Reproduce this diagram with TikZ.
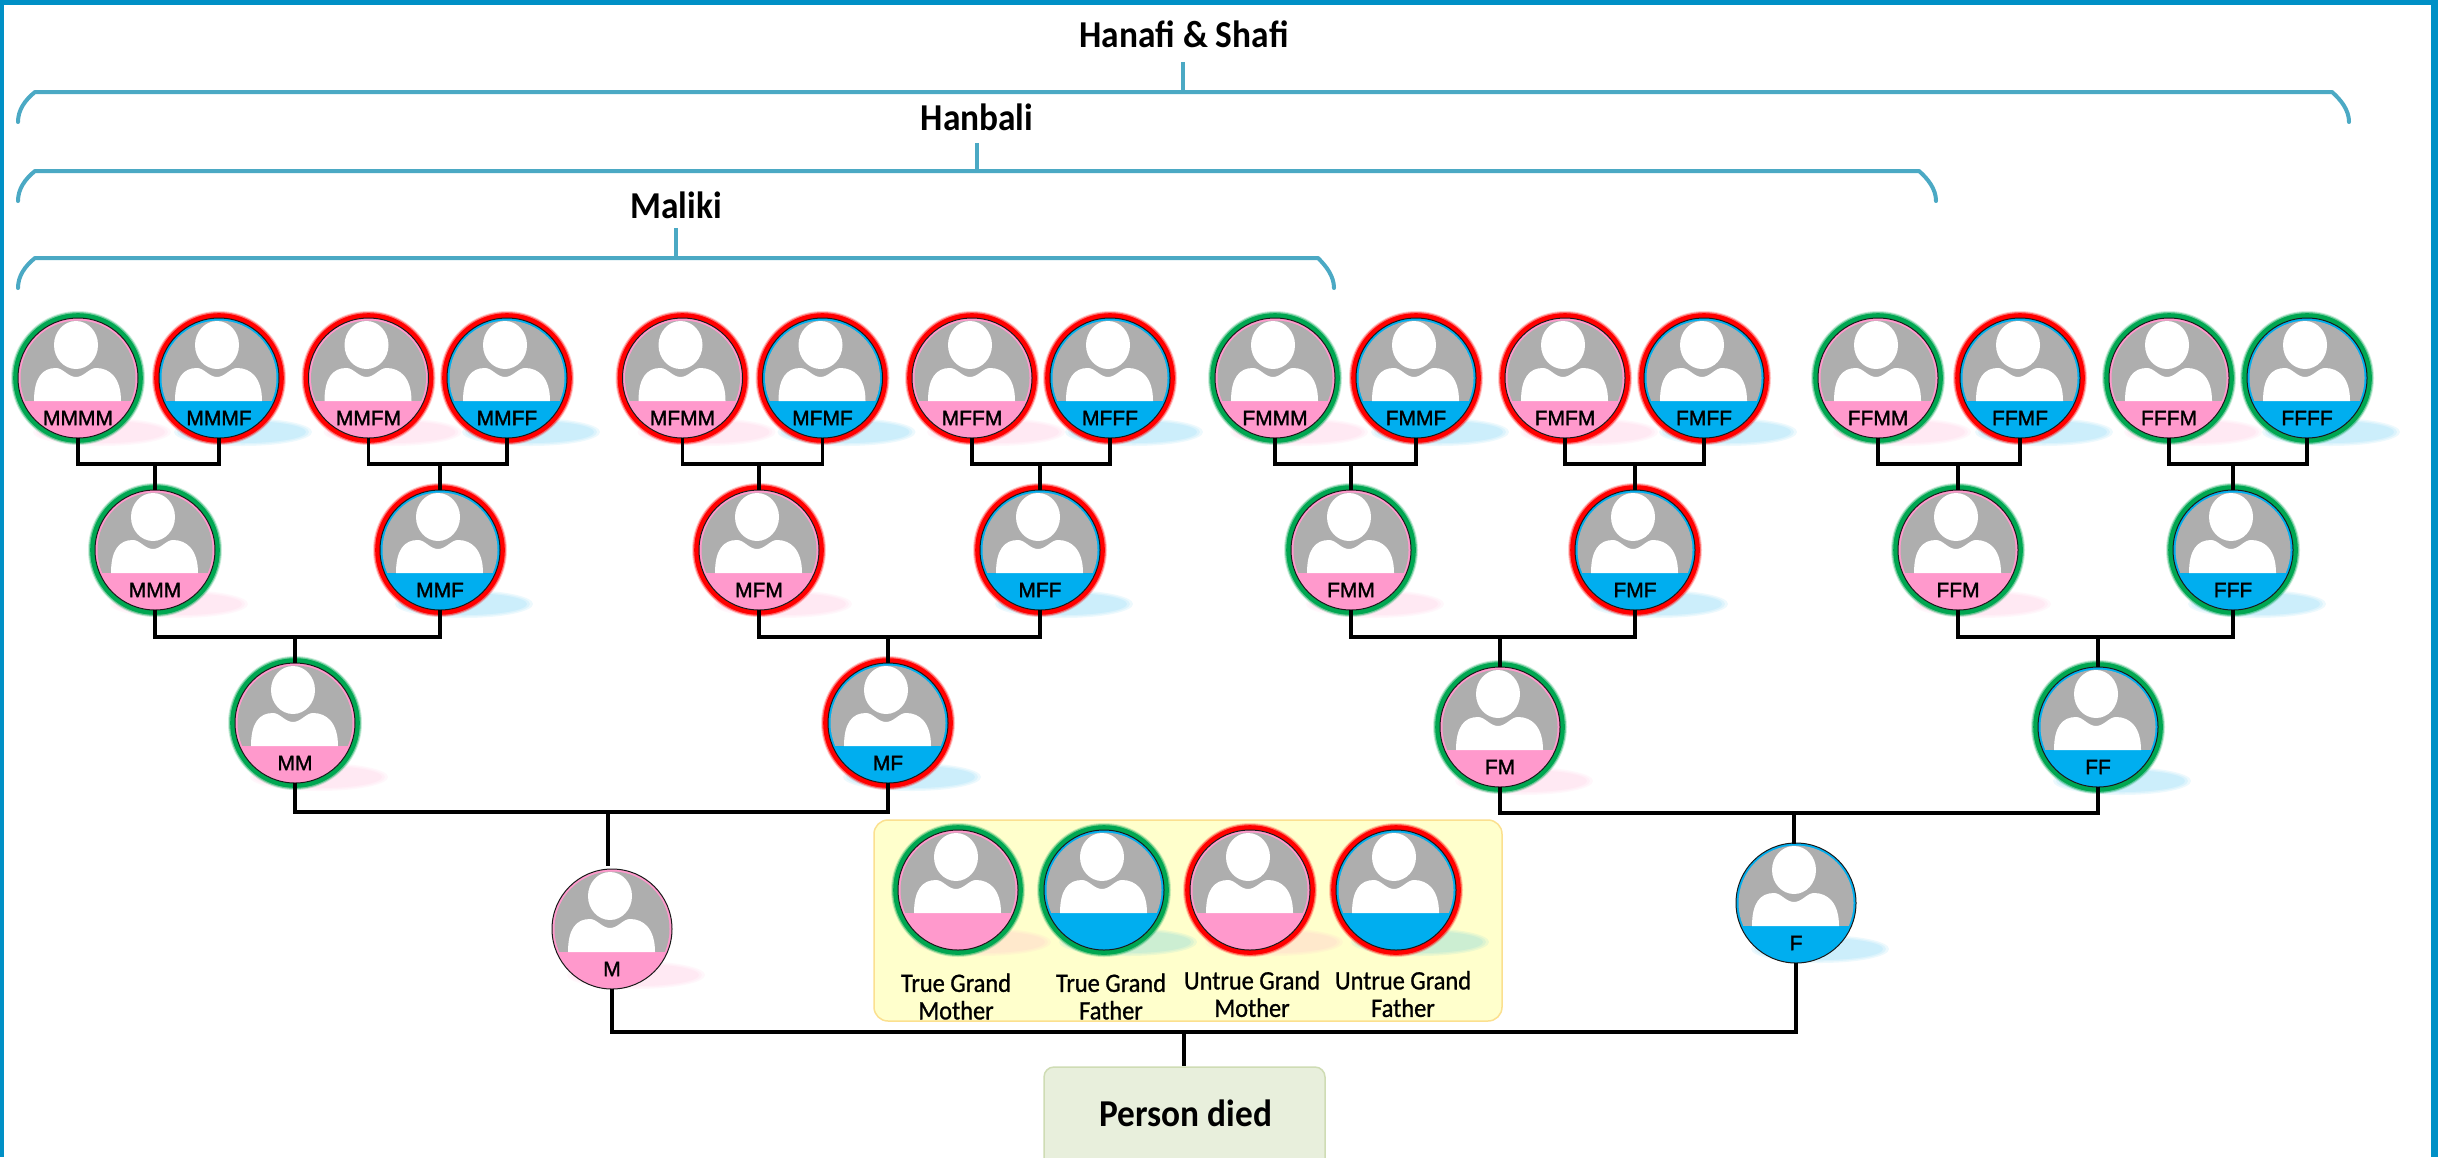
\documentclass[tikz,border=0pt]{standalone}
\usepackage{fontspec}
\setmainfont{Liberation Sans}
\newfontfamily\titlefont{Carlito}[FakeStretch=0.93]
\newfontfamily\legendfont{Carlito}[FakeStretch=0.92,FakeBold=1]
\newfontfamily\labelfont{Liberation Sans}[FakeBold=1.5]
\definecolor{brk}{HTML}{4BA9C4}
\definecolor{frame}{HTML}{0090C6}
\definecolor{pk}{HTML}{FF99CC}
\definecolor{bl}{HTML}{00AEEF}
\definecolor{gr}{HTML}{00A651}
\definecolor{rd}{HTML}{FF0000}
\definecolor{face}{HTML}{AEAEAE}
\definecolor{legfill}{HTML}{FFFFCC}
\definecolor{legline}{HTML}{FBE08F}
\definecolor{boxfill}{HTML}{E8EFDC}
\definecolor{boxline}{HTML}{CFDCB4}
\tikzset{
  conn/.style={draw=black,line width=3.2pt,line join=miter},
  bracket/.style={draw=brk,line width=4pt,line cap=round,line join=round},
  headtext/.style={font=\titlefont\fontsize{38}{42}\selectfont\bfseries,inner sep=0pt},
  legtext/.style={font=\legendfont\fontsize{26.5}{27.5}\selectfont,inner sep=0pt,align=center},
  plabel/.style={font=\labelfont\fontsize{21}{23}\selectfont,inner sep=0pt},
  disc/.style={circle,minimum size=120pt,inner sep=0pt,outer sep=0pt,line width=1pt,draw=black!90},
}
\newcommand\shy{54}
% name, x, y, ring colour, body colour
\newcommand\personbase[5]{%
  \begin{scope}[shift={(#2,#3)}]
    \foreach \a/\b in {69/14,66/12.5,63/11}{\fill[fill=#5,opacity=.07] (24,\shy) ellipse (\a pt and \b pt);}
    \path[draw=#4,draw opacity=.2,line width=9pt] (0,0) circle (62.5pt);
    \path[draw=#4,draw opacity=.45,line width=7pt] (0,0) circle (62.5pt);
    \path[draw=#4,line width=5pt] (0,0) circle (62.3pt);
    \node[disc,fill=#5] (#1) at (0,0) {};
    \begin{scope}
      \clip (0,0) circle (57.5pt);
      \fill[face] (-60,-60) rectangle (60,23);
      \fill[white] (-2,-33) ellipse (22pt and 24pt);
      \fill[white] (-44,23) .. controls (-44,0) and (-36,-10) .. (-22,-10) .. controls (-15,-10) and (-10,-1) .. (-2,-1) .. controls (6,-1) and (11,-10) .. (18,-10) .. controls (32,-10) and (43,0) .. (43,23) -- cycle;
    \end{scope}
  \end{scope}}
\newcommand\person[6]{\personbase{#1}{#2}{#3}{#4}{#5}\node[plabel] (#1-l) at (#2,#3+40) {#6};}
\newcommand\tree[4]{% left, right, child, y
  \coordinate (j#3) at (#3.north |- 0,#4);
  \draw[conn] (#1.south) |- (#2.south |- j#3) -- (#2.south);
  \draw[conn] (j#3) -- (#3.north);}
\begin{document}
\begin{tikzpicture}[x=1pt,y=-1pt]
\useasboundingbox (0,0) rectangle (2438,1157);
\fill[white] (0,0) rectangle (2438,1157);
% frame
\fill[frame] (0,0) rectangle (2438,5);
\fill[frame] (0,0) rectangle (4,1157);
\fill[frame] (2430.5,0) rectangle (2438,1157);
% brackets and titles
\node[headtext] (hanafi) at (1184,34) {Hanafi \& Shafi};
\node[headtext] (hanbali) at (977,117) {Hanbali};
\node[headtext] (maliki) at (676,205) {Maliki};
\draw[bracket] (18,122) .. controls (18,110) and (25,100) .. (35,92) -- (2332,92) .. controls (2341,100) and (2349,110) .. (2349,122);
\draw[bracket] (18,201) .. controls (18,189) and (25,179) .. (35,171) -- (1919,171) .. controls (1928,179) and (1936,189) .. (1936,201);
\draw[bracket] (18,288) .. controls (18,276) and (25,266) .. (35,258) -- (1318,258) .. controls (1326,266) and (1334,276) .. (1334,288);
\coordinate (t1a) at (1183,62); \coordinate (t1b) at (1183,92);
\coordinate (t2a) at (977,143); \coordinate (t2b) at (977,171);
\coordinate (t3a) at (676,228); \coordinate (t3b) at (676,258);
\draw[bracket,line cap=butt] (t1a) -- (t1b);
\draw[bracket,line cap=butt] (t2a) -- (t2b);
\draw[bracket,line cap=butt] (t3a) -- (t3b);
% legend panel and person box
\node[draw=legline,fill=legfill,line width=1.5pt,rounded corners=14pt,minimum width=628pt,minimum height=201pt,inner sep=0pt] (legend) at (1188,920.5) {};
\node[draw=boxline,fill=boxfill,line width=1.5pt,rounded corners=10pt,minimum width=281pt,minimum height=180pt,inner sep=0pt] (person) at (1184.5,1157) {};
\node[headtext] (persontext) at (1186,1113) {Person died};
% top row
\person{MMMM}{78}{378}{gr}{pk}{MMMM}
\person{MMMF}{219}{378}{rd}{bl}{MMMF}
\person{MMFM}{368.5}{378}{rd}{pk}{MMFM}
\person{MMFF}{507}{378}{rd}{bl}{MMFF}
\person{MFMM}{682.5}{378}{rd}{pk}{MFMM}
\person{MFMF}{822.5}{378}{rd}{bl}{MFMF}
\person{MFFM}{972}{378}{rd}{pk}{MFFM}
\person{MFFF}{1110}{378}{rd}{bl}{MFFF}
\person{FMMM}{1275}{378}{gr}{pk}{FMMM}
\person{FMMF}{1416}{378}{rd}{bl}{FMMF}
\person{FMFM}{1565}{378}{rd}{pk}{FMFM}
\person{FMFF}{1704}{378}{rd}{bl}{FMFF}
\person{FFMM}{1878}{378}{gr}{pk}{FFMM}
\person{FFMF}{2020}{378}{rd}{bl}{FFMF}
\person{FFFM}{2169}{378}{gr}{pk}{FFFM}
\person{FFFF}{2307}{378}{gr}{bl}{FFFF}
% second row
\person{MMM}{155}{550}{gr}{pk}{MMM}
\person{MMF}{440}{550}{rd}{bl}{MMF}
\person{MFM}{759}{550}{rd}{pk}{MFM}
\person{MFF}{1040}{550}{rd}{bl}{MFF}
\person{FMM}{1351}{550}{gr}{pk}{FMM}
\person{FMF}{1635}{550}{rd}{bl}{FMF}
\person{FFM}{1958}{550}{gr}{pk}{FFM}
\person{FFF}{2233}{550}{gr}{bl}{FFF}
% third row
\person{MM}{295}{723}{gr}{pk}{MM}
\person{MF}{888}{723}{rd}{bl}{MF}
\person{FM}{1500}{727}{gr}{pk}{FM}
\person{FF}{2098}{727}{gr}{bl}{FF}
% parents
\renewcommand\shy{46}
\person{M}{612}{929}{none}{pk}{M}
\person{F}{1796}{903}{none}{bl}{F}
\renewcommand\shy{52}
% legend discs
\personbase{L1}{958}{890}{gr}{pk}
\personbase{L2}{1104}{890}{gr}{bl}
\personbase{L3}{1250}{890}{rd}{pk}
\personbase{L4}{1396}{890}{rd}{bl}
\node[legtext] (L1t) at (956,996.5) {True Grand\\Mother};
\node[legtext] (L2t) at (1111,996.5) {True Grand\\Father};
\node[legtext] (L3t) at (1252,994) {Untrue Grand\\Mother};
\node[legtext] (L4t) at (1403,994) {Untrue Grand\\Father};
% connectors
\tree{MMMM}{MMMF}{MMM}{464}
\tree{MMFM}{MMFF}{MMF}{464}
\tree{MFMM}{MFMF}{MFM}{464}
\tree{MFFM}{MFFF}{MFF}{464}
\tree{FMMM}{FMMF}{FMM}{464}
\tree{FMFM}{FMFF}{FMF}{464}
\tree{FFMM}{FFMF}{FFM}{464}
\tree{FFFM}{FFFF}{FFF}{464}
\tree{MMM}{MMF}{MM}{637}
\tree{MFM}{MFF}{MF}{637}
\tree{FMM}{FMF}{FM}{637}
\tree{FFM}{FFF}{FF}{637}
\coordinate (jM) at (608,812);
\coordinate (Mtop) at (608,866);
\draw[conn] (MM.south) |- (jM) -| (MF.south);
\draw[conn] (jM) -- (Mtop);
\coordinate (jF) at (1794,813);
\coordinate (Ftop) at (1794,844);
\draw[conn] (FM.south) |- (jF) -| (FF.south);
\draw[conn] (jF) -- (Ftop);
\coordinate (jP) at (1184,1032);
\draw[conn] (M.south) |- (jP) -| (F.south);
\draw[conn] (jP) -- (person.north -| jP);
\end{tikzpicture}
\end{document}
